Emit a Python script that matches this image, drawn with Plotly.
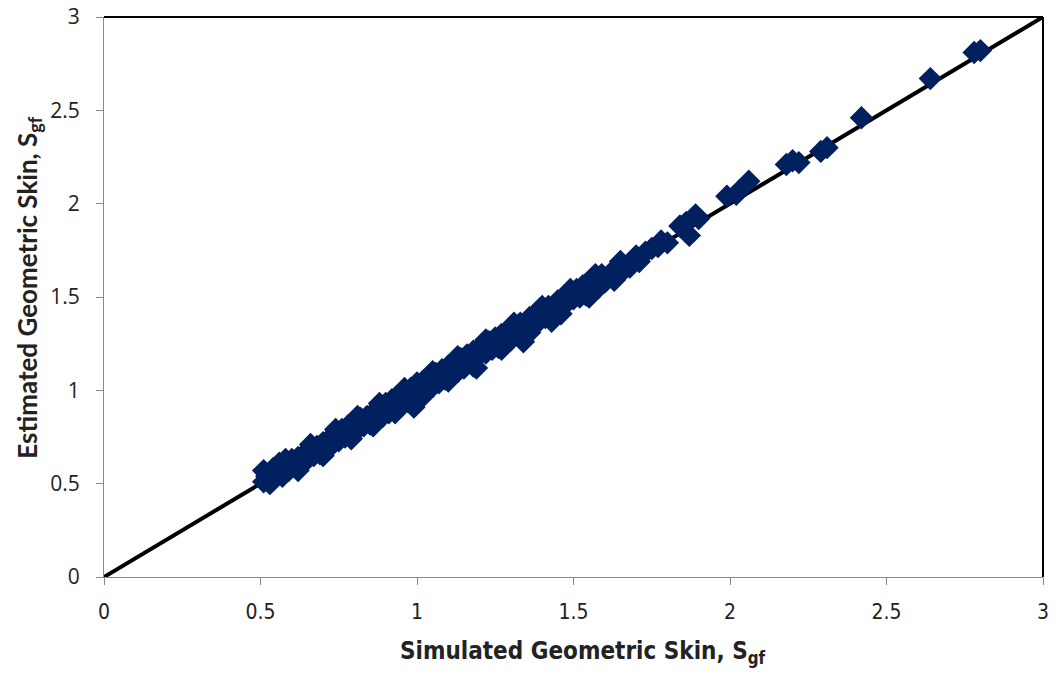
import plotly.graph_objects as go

sim_x = [0.51, 0.51, 0.52, 0.53, 0.54, 0.55, 0.56, 0.57, 0.58, 0.59, 0.60, 0.61, 0.62, 0.63, 0.64, 0.65,
         0.66, 0.67, 0.68, 0.69, 0.70, 0.71, 0.72, 0.73, 0.74, 0.75, 0.76, 0.77, 0.78, 0.79, 0.80, 0.81,
         0.82, 0.83, 0.84, 0.85, 0.86, 0.87, 0.88, 0.89, 0.90, 0.91, 0.92, 0.93, 0.94, 0.95, 0.96, 0.97,
         0.98, 0.99, 0.99, 1.00, 1.01, 1.02, 1.03, 1.04, 1.05, 1.06, 1.07, 1.08, 1.09, 1.10, 1.11, 1.12,
         1.13, 1.14, 1.15, 1.16, 1.17, 1.18, 1.19, 1.20, 1.21, 1.22, 1.23, 1.24, 1.25, 1.26, 1.27, 1.28,
         1.29, 1.30, 1.31, 1.32, 1.33, 1.34, 1.35, 1.36, 1.37, 1.38, 1.39, 1.40, 1.41, 1.42, 1.43, 1.44,
         1.45, 1.46, 1.47, 1.48, 1.49, 1.50, 1.51, 1.52, 1.53, 1.54, 1.55, 1.56, 1.57, 1.58, 1.59, 1.60,
         1.62, 1.64, 1.66, 1.68, 1.70, 1.71, 1.73, 1.75, 1.77, 1.78, 1.80, 1.84, 1.86, 1.87, 1.89, 1.90,
         1.99, 2.02, 2.03, 2.06, 2.18, 2.20, 2.22, 2.29, 2.31, 2.42, 2.64, 2.78, 2.80,
         0.58, 0.66, 0.74, 0.81, 0.88, 0.96, 1.05, 1.13, 1.22, 1.31, 1.40, 1.49, 1.57, 1.65,
         0.62, 0.70, 0.79, 0.86, 0.93, 1.02, 1.10, 1.18, 1.27, 1.36, 1.46, 1.55, 1.63]
est_y = [0.57, 0.51, 0.54, 0.50, 0.58, 0.55, 0.61, 0.54, 0.60, 0.57, 0.63, 0.59, 0.64, 0.61, 0.66, 0.63,
         0.67, 0.65, 0.70, 0.66, 0.72, 0.69, 0.74, 0.71, 0.77, 0.73, 0.79, 0.75, 0.81, 0.77, 0.83, 0.79,
         0.85, 0.81, 0.86, 0.82, 0.88, 0.84, 0.90, 0.86, 0.93, 0.88, 0.95, 0.90, 0.97, 0.92, 0.99, 0.94,
         1.01, 0.91, 0.97, 1.04, 0.98, 1.05, 1.00, 1.08, 1.02, 1.09, 1.04, 1.11, 1.06, 1.13, 1.08, 1.15,
         1.10, 1.17, 1.12, 1.19, 1.15, 1.21, 1.12, 1.19, 1.24, 1.20, 1.26, 1.22, 1.28, 1.23, 1.30, 1.26,
         1.32, 1.27, 1.34, 1.30, 1.36, 1.26, 1.33, 1.39, 1.35, 1.41, 1.37, 1.43, 1.39, 1.45, 1.37, 1.44,
         1.48, 1.45, 1.50, 1.47, 1.52, 1.49, 1.54, 1.50, 1.56, 1.51, 1.58, 1.53, 1.60, 1.55, 1.62, 1.58,
         1.63, 1.61, 1.65, 1.66, 1.72, 1.69, 1.74, 1.76, 1.77, 1.80, 1.79, 1.88, 1.90, 1.83, 1.94, 1.92,
         2.04, 2.05, 2.07, 2.12, 2.21, 2.23, 2.22, 2.28, 2.30, 2.46, 2.67, 2.81, 2.82,
         0.63, 0.71, 0.79, 0.86, 0.93, 1.01, 1.10, 1.18, 1.27, 1.36, 1.45, 1.54, 1.62, 1.69,
         0.57, 0.65, 0.74, 0.81, 0.88, 0.97, 1.05, 1.13, 1.22, 1.31, 1.41, 1.50, 1.59]

line_x = [0, 3]
line_y = [0, 3]

x_ticks = [0, 0.5, 1, 1.5, 2, 2.5, 3]
x_tick_labels = ["0", "0.5", "1", "1.5", "2", "2.5", "3"]
y_ticks = [0, 0.5, 1, 1.5, 2, 2.5, 3]
y_tick_labels = ["0", "0.5", "1", "1.5", "2", "2.5", "3"]

x_title = "<b>Simulated Geometric Skin, S<sub>gf</sub></b>"
y_title = "<b>Estimated Geometric Skin, S<sub>gf</sub></b>"

fig = go.Figure()
fig.add_trace(go.Scatter(x=line_x, y=line_y, mode="lines",
                         line=dict(color="black", width=4), hoverinfo="skip"))
fig.add_trace(go.Scatter(x=sim_x, y=est_y, mode="markers",
                         marker=dict(symbol="diamond", size=18, color="#002060",
                                     line=dict(width=0))))

fig.update_layout(
    width=1058, height=677,
    margin=dict(l=104, r=15, t=17, b=100),
    paper_bgcolor="white", plot_bgcolor="white",
    showlegend=False,
    font=dict(family="Open Sans, sans-serif", size=18, color="#222"),
    xaxis=dict(range=[0, 3], tickvals=x_ticks, ticktext=x_tick_labels, automargin=False,
               showgrid=False, zeroline=False, showline=True, linecolor="#888",
               linewidth=1, ticks="outside", ticklen=7, tickcolor="#888",
               ticklabelstandoff=9,
               tickfont=dict(size=21, family="Liberation Sans Narrow, DejaVu Sans Condensed, sans-serif")),
    yaxis=dict(range=[0, 3], tickvals=y_ticks, ticktext=y_tick_labels, automargin=False,
               showgrid=False, zeroline=False, showline=True, linecolor="#888",
               linewidth=1, ticks="outside", ticklen=7, tickcolor="#888",
               ticklabelstandoff=12,
               tickfont=dict(size=21, family="Open Sans, sans-serif")),
)
fig.add_annotation(text=x_title, xref="paper", yref="paper", x=0.51, y=-0.134,
                   showarrow=False, xanchor="center", yanchor="middle",
                   font=dict(size=24, family="Liberation Sans Narrow, DejaVu Sans Condensed, sans-serif", color="#222"))
fig.add_annotation(text=y_title, xref="paper", yref="paper", x=-0.08, y=0.518,
                   showarrow=False, xanchor="center", yanchor="middle", textangle=-90,
                   font=dict(size=26, family="Lato, sans-serif", color="#222"))
fig.add_shape(type="line", xref="paper", yref="paper", x0=0, x1=1, y0=1, y1=1,
              line=dict(color="black", width=2))
fig.add_shape(type="line", xref="paper", yref="paper", x0=1, x1=1, y0=0, y1=1,
              line=dict(color="black", width=2))

fig.write_html("out.html")
